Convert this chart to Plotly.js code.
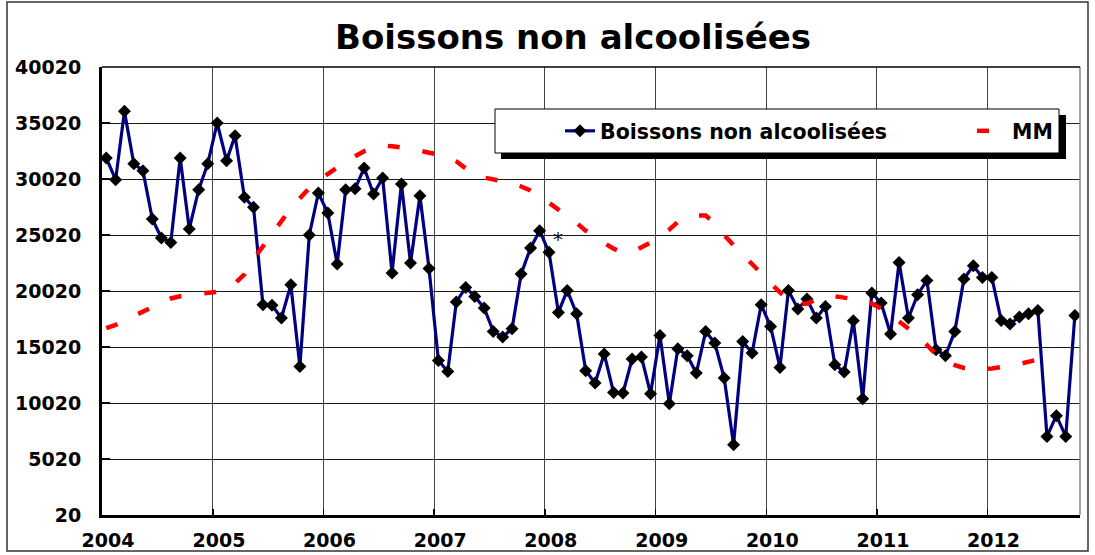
<!DOCTYPE html>
<html>
<head>
<meta charset="utf-8">
<script src="https://cdn.plot.ly/plotly-3.0.1.min.js"></script>
<style>
html,body{margin:0;padding:0;background:#fff;}
#chart{width:1095px;height:555px;}
</style>
</head>
<body>
<div id="chart"></div>
<script>
// ---- data ----
const chartTitle = "Boissons non alcoolisées";
const seriesName = "Boissons non alcoolisées";
const mmName = "MM";
const startYear = 2004;
const yearLabels = ["2004","2005","2006","2007","2008","2009","2010","2011","2012"];
const yTickValues = [20, 5020, 10020, 15020, 20020, 25020, 30020, 35020, 40020];

// monthly values, Jan 2004 .. Oct 2012
const boissons = [
  31900, 29960, 36060, 31390, 30760, 26450, 24750, 24360, 31900, 25560, 29070, 31390,
  35020, 31660, 33890, 28380, 27490, 18800, 18750, 17610, 20580, 13290, 25020, 28770,
  26990, 22430, 29070, 29150, 31000, 28680, 30110, 21630, 29575, 22520, 28530, 22040,
  13820, 12840, 19040, 20340, 19540, 18500, 16410, 15910, 16655, 21540, 23860, 25405,
  23470, 18110, 20075, 17995, 12905, 11806, 14396, 10967, 10913, 13949, 14128, 10851,
  16056,  9958, 14869, 14244, 12699, 16414, 15378, 12253,  6297, 15521, 14485, 18798,
  16860, 13199, 20075, 18414, 19307, 17610, 18646, 13440, 12788, 17369, 10404, 19842,
  18949, 16181, 22575, 17610, 19691, 20967, 14780, 14244, 16414, 21092, 22280, 21236,
  21236, 17396, 17074, 17699, 17994, 18289,  7038,  8886,  7038, 17842
];

// moving average (visible Jan 2004 .. Aug 2012)
const mm = [
  16700, 17000, 17400, 17800, 18200, 18600, 19000, 19350, 19550, 19650, 19750, 19820,
  19950, 20200, 20700, 21500, 22900, 24000, 25100, 26300, 27400, 28300, 29200, 29900,
  30500, 31000, 31550, 32050, 32500, 32850, 33000, 32950, 32850, 32700, 32550, 32400,
  32200, 32000, 31600, 30900, 30350, 30150, 29980, 29850, 29650, 29350, 29000, 28500,
  27900, 27200, 26700, 26100, 25400, 24800, 24300, 23800, 23450, 23500, 23900, 24350,
  24900, 25500, 26200, 26550, 26750, 26750, 26100, 25000, 24100, 23300, 22500, 21600,
  20700, 19900, 19200, 18800, 18900, 19250, 19600, 19550, 19450, 19300, 19180, 18900,
  18500, 18000, 17300, 16700, 16050, 15200, 14350, 13800, 13400, 13150, 13050, 13050,
  13100, 13180, 13350, 13500, 13700, 13900, 14100, 14300
];

const months = boissons.map((_, i) => {
  const y = startYear + Math.floor(i / 12);
  const m = (i % 12) + 1;
  return y + "-" + (m < 10 ? "0" + m : m) + "-15";
});
const yearTicks = yearLabels.map(y => y + "-01-01");

// ---- geometry helpers (plot area: x 102..1080, y 67..515) ----
const L = 102, R = 1080, T = 67, B = 515, W = 1095, H = 555;
const px = v => (v - L) / (R - L);
const py = v => (B - v) / (B - T);

const FONT = "DejaVu Sans";
const legendFont = {family: FONT, size: 20.5, weight: "bold", color: "#000"};

const traces = [
  {
    x: months, y: boissons, name: seriesName, type: "scatter", mode: "lines+markers",
    line: {color: "#000080", width: 3.2},
    marker: {symbol: "diamond", size: 10, color: "#000000"},
    legend: "legend"
  },
  {
    x: months.slice(0, mm.length), y: mm, name: mmName, type: "scatter", mode: "lines",
    line: {color: "#ff0000", width: 4.5, dash: "12px,23px"},
    legend: "legend2"
  }
];

const layout = {
  width: W, height: H,
  paper_bgcolor: "#ffffff", plot_bgcolor: "#ffffff",
  margin: {l: L, r: W - R, t: T, b: H - B, pad: 0},
  font: {family: FONT, color: "#000", size: 19},
  title: {
    text: chartTitle,
    font: {family: FONT, size: 34, weight: "bold", color: "#000"},
    xref: "paper", x: px(573), xanchor: "center",
    yref: "container", y: 1 - 37 / H, yanchor: "middle"
  },
  showlegend: true,
  legend: {
    orientation: "h",
    x: px(560), xanchor: "left",
    y: py(131), yanchor: "middle",
    bgcolor: "rgba(0,0,0,0)", borderwidth: 0,
    font: legendFont
  },
  legend2: {
    orientation: "h",
    x: px(972), xanchor: "left",
    y: py(131), yanchor: "middle",
    bgcolor: "rgba(0,0,0,0)", borderwidth: 0,
    font: legendFont
  },
  xaxis: {
    type: "date",
    range: ["2004-01-01", "2012-11-01"],
    tickmode: "array", tickvals: yearTicks, ticktext: yearLabels,
    ticklabelshift: 6, ticklabelstandoff: 6,
    ticks: "inside", ticklen: 6, tickwidth: 1.5, tickcolor: "#000",
    showgrid: true, gridcolor: "#444", gridwidth: 1,
    showline: true, linecolor: "#000", linewidth: 3,
    zeroline: false,
    tickfont: {family: FONT, size: 19, weight: "bold", color: "#000"},
    fixedrange: true
  },
  yaxis: {
    range: [20, 40020],
    tickmode: "array", tickvals: yTickValues, ticktext: yTickValues.map(String),
    ticks: "inside", ticklen: 8, tickwidth: 2, tickcolor: "#000",
    ticklabelstandoff: 14,
    showgrid: true, gridcolor: "#1a1a1a", gridwidth: 1,
    showline: true, linecolor: "#000", linewidth: 3,
    zeroline: false,
    tickfont: {family: FONT, size: 19, weight: "bold", color: "#000"},
    fixedrange: true
  },
  shapes: [
    // outer chart frame
    {type: "rect", xref: "paper", yref: "paper", x0: px(7), x1: px(1088), y0: py(551), y1: py(2),
     line: {color: "#333", width: 1.5}, fillcolor: "rgba(0,0,0,0)", layer: "below"},
    // right plot edge
    {type: "line", xref: "paper", yref: "paper", x0: 1, x1: 1, y0: 0, y1: 1,
     line: {color: "#888", width: 1.5}, layer: "above"},
    // top plot edge
    {type: "line", xref: "paper", yref: "paper", x0: 0, x1: 1, y0: 1, y1: 1,
     line: {color: "#000", width: 1.5}, layer: "above"},
    // legend shadow
    {type: "rect", xref: "paper", yref: "paper", x0: px(501), x1: px(1066), y0: py(159), y1: py(115),
     line: {width: 0}, fillcolor: "#000", layer: "above"},
    // legend box
    {type: "rect", xref: "paper", yref: "paper", x0: px(495), x1: px(1059), y0: py(153), y1: py(109),
     line: {color: "#000", width: 1}, fillcolor: "#fff", layer: "above"}
  ],
  annotations: [
    {x: "2008-02-14", y: 24900, xref: "x", yref: "y", text: "*", showarrow: false,
     font: {family: FONT, size: 20, color: "#000"}, yshift: -3}
  ]
};

Plotly.newPlot("chart", traces, layout, {displayModeBar: false, staticPlot: true});
</script>
</body>
</html>
